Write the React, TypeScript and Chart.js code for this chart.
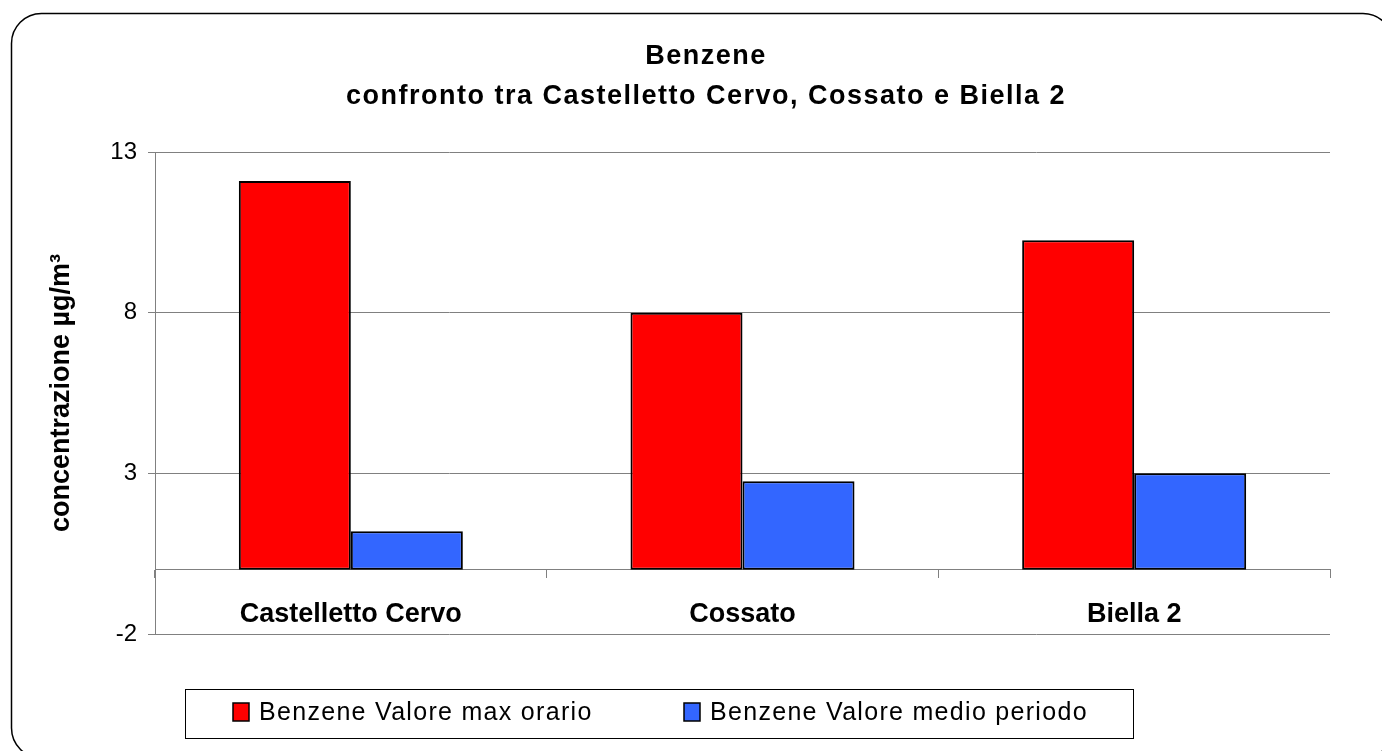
import React, { useEffect, useRef } from 'react';
import { Chart, registerables } from 'chart.js';

Chart.register(...registerables);

// ---- data ----
const categories = ['Castelletto Cervo', 'Cossato', 'Biella 2'];
const maxOrario = [12.1, 8.0, 10.25];
const medioPeriodo = [1.2, 2.75, 3.0];
const seriesLabels = ['Benzene Valore max orario', 'Benzene Valore medio periodo'];
const seriesColors = ['#FF0000', '#3366FF'];
const titleLines = ['Benzene', 'confronto tra Castelletto Cervo, Cossato e Biella 2'];
const yAxisTitle = 'concentrazione µg/m³';
const yMin = -2;
const yMax = 13;
const yStep = 5;

const FONT = '"Liberation Sans", Arial, Helvetica, sans-serif';

const framePlugin = {
  id: 'frame',
  beforeDraw(chart: any) {
    const ctx = chart.ctx as CanvasRenderingContext2D;
    ctx.save();
    ctx.fillStyle = '#ffffff';
    ctx.fillRect(0, 0, chart.width, chart.height);
    const x0 = 11.5, y0 = 13.5, x1 = 1393, y1 = 758, r = 30;
    ctx.beginPath();
    ctx.moveTo(x0 + r, y0);
    ctx.lineTo(x1 - r, y0);
    ctx.arcTo(x1, y0, x1, y0 + r, r);
    ctx.lineTo(x1, y1 - r);
    ctx.arcTo(x1, y1, x1 - r, y1, r);
    ctx.lineTo(x0 + r, y1);
    ctx.arcTo(x0, y1, x0, y1 - r, r);
    ctx.lineTo(x0, y0 + r);
    ctx.arcTo(x0, y0, x0 + r, y0, r);
    ctx.closePath();
    ctx.lineWidth = 1.5;
    ctx.strokeStyle = '#000000';
    ctx.stroke();
    ctx.restore();
  },
};

const titleLegendPlugin = {
  id: 'titleLegend',
  afterDraw(chart: any) {
    const ctx = chart.ctx as any;
    // Title
    ctx.save();
    ctx.fillStyle = '#000000';
    ctx.font = `bold 27px ${FONT}`;
    ctx.letterSpacing = '1.5px';
    ctx.textAlign = 'center';
    ctx.textBaseline = 'middle';
    ctx.fillText(titleLines[0], 706, 57);
    ctx.fillText(titleLines[1], 706, 97);
    ctx.restore();

    // Legend box
    ctx.save();
    ctx.lineWidth = 1;
    ctx.strokeStyle = '#000000';
    ctx.strokeRect(185.5, 689.5, 948, 49);
    const itemX = [233, 684];
    chart.data.datasets.forEach((ds: any, i: number) => {
      const x = itemX[i];
      ctx.fillStyle = ds.backgroundColor;
      ctx.fillRect(x, 703, 16, 18);
      ctx.lineWidth = 1.5;
      ctx.strokeStyle = '#000000';
      ctx.strokeRect(x, 703, 16, 18);
      ctx.fillStyle = '#000000';
      ctx.font = `25px ${FONT}`;
      ctx.letterSpacing = '1.3px';
      ctx.textAlign = 'left';
      ctx.textBaseline = 'middle';
      ctx.fillText(ds.label, x + 26, 713);
    });
    ctx.restore();
  },
};

export default function App() {
  const ref = useRef<HTMLCanvasElement>(null);

  useEffect(() => {
    if (!ref.current) return;
    const chart = new Chart(ref.current, {
      type: 'bar',
      data: {
        labels: categories,
        datasets: [
          {
            label: seriesLabels[0],
            data: maxOrario,
            backgroundColor: seriesColors[0],
            borderColor: '#000000',
            borderWidth: 2,
            borderSkipped: false,
            categoryPercentage: 0.572,
            barPercentage: 1.0,
          },
          {
            label: seriesLabels[1],
            data: medioPeriodo,
            backgroundColor: seriesColors[1],
            borderColor: '#000000',
            borderWidth: 2,
            borderSkipped: false,
            categoryPercentage: 0.572,
            barPercentage: 1.0,
          },
        ],
      },
      options: {
        responsive: false,
        animation: false,
        devicePixelRatio: 1,
        layout: { padding: { left: 30, right: 52, top: 152, bottom: 117 } },
        plugins: {
          legend: { display: false },
          title: { display: false },
          tooltip: { enabled: false },
        },
        scales: {
          x: {
            type: 'category',
            position: { y: 0 } as any,
            grid: {
              offset: true,
              drawOnChartArea: false,
              drawTicks: true,
              tickLength: 8,
              color: '#808080',
              lineWidth: 1,
            },
            border: { display: true, color: '#808080', width: 1 },
            ticks: {
              color: '#000000',
              font: { family: FONT, size: 27, weight: 'bold' },
              padding: 21,
              maxRotation: 0,
              autoSkip: false,
            },
          },
          y: {
            min: yMin,
            max: yMax,
            ticks: {
              stepSize: yStep,
              color: '#000000',
              font: { family: FONT, size: 24 },
              padding: 11,
            },
            grid: { color: '#808080', tickLength: 7, drawTicks: true, lineWidth: 1 },
            border: { display: true, color: '#808080', width: 1 },
            title: {
              display: true,
              text: yAxisTitle,
              color: '#000000',
              font: { family: FONT, size: 27, weight: 'bold' },
              padding: { top: 15, bottom: 0 },
            },
            afterFit: (s: any) => {
              s.width = 125;
            },
          },
        },
      },
      plugins: [framePlugin, titleLegendPlugin],
    } as any);
    return () => chart.destroy();
  }, []);

  return (
    <div style={{ position: 'fixed', left: 0, top: 0, width: 1382, height: 751, background: '#fff' }}>
      <canvas ref={ref} width={1382} height={751} style={{ display: 'block' }} />
    </div>
  );
}
